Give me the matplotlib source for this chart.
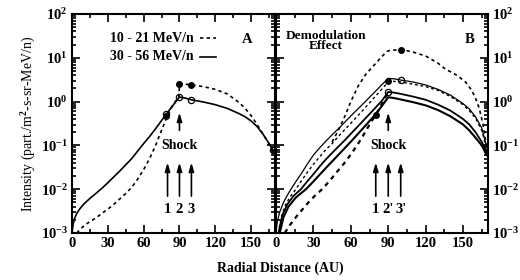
import numpy as np
import matplotlib.pyplot as plt
from matplotlib.ticker import FixedLocator, FixedFormatter, LogLocator, NullFormatter, MultipleLocator

plt.rcParams['font.family'] = ['Liberation Serif']
plt.rcParams['font.weight'] = 'bold'
plt.rcParams['mathtext.fontset'] = 'custom'
plt.rcParams['mathtext.rm'] = 'Liberation Serif:bold'
plt.rcParams['mathtext.it'] = 'Liberation Serif:bold'
plt.rcParams['mathtext.bf'] = 'Liberation Serif:bold'

# ---- panel A data ----
a_lo_x = [4, 8, 12, 16, 20, 25, 30, 35, 40, 45, 50, 55, 60, 65, 70, 75, 80, 84, 88, 89.5,
          90, 95, 100, 110, 120, 130, 140, 145, 150, 155, 160, 165, 169]
a_lo_y = [1e-3, 1.3e-3, 1.6e-3, 1.9e-3, 2.2e-3, 2.8e-3, 3.5e-3, 4.5e-3, 6e-3, 8e-3, 1.1e-2,
          1.7e-2, 2.8e-2, 5e-2, 0.1, 0.22, 0.48, 0.8, 1.15, 1.25,
          2.5, 2.5, 2.4, 2.2, 1.9, 1.5, 0.95, 0.7, 0.48, 0.3, 0.18, 0.11, 0.07]
a_hi_x = [0, 1, 2, 4, 6, 8, 10, 13, 16, 20, 25, 30, 40, 50, 60, 65, 70, 75, 79, 83, 87, 90,
          95, 100, 110, 120, 130, 140, 145, 150, 155, 160, 165, 169]
a_hi_y = [1e-3, 1.6e-3, 2.1e-3, 2.8e-3, 3.4e-3, 4e-3, 4.6e-3, 5.5e-3, 6.5e-3, 8e-3, 1.05e-2,
          1.4e-2, 2.6e-2, 5e-2, 0.11, 0.16, 0.24, 0.37, 0.52, 0.72, 1.0, 1.27,
          1.2, 1.1, 0.98, 0.85, 0.7, 0.53, 0.45, 0.36, 0.27, 0.18, 0.11, 0.07]
a_open_x = [79, 90, 100, 168]
a_open_y = [0.52, 1.27, 1.1, 0.08]
a_fill_x = [79, 90, 100]
a_fill_y = [0.47, 2.5, 2.4]

# ---- panel B data ----
b1_x = [0, 1, 3, 6, 9, 12, 16, 20, 25, 30, 35, 40, 45, 50, 60, 70, 80, 85, 90,
        95, 100, 110, 120, 130, 140, 150, 155, 160, 165, 169]
b1_y = [1e-3, 1.8e-3, 3e-3, 5e-3, 7.2e-3, 1e-2, 1.5e-2, 2.2e-2, 3.7e-2, 6e-2, 8.8e-2, 0.125,
        0.175, 0.24, 0.47, 0.9, 1.75, 2.45, 3.4,
        3.3, 3.1, 2.8, 2.4, 1.9, 1.4, 0.9, 0.68, 0.45, 0.25, 0.09]
b2_x = [2, 4, 7, 11, 16, 20, 25, 30, 35, 40, 45, 50, 60, 70, 80, 85, 90,
        95, 100, 110, 120, 130, 140, 150, 155, 160, 165, 169]
b2_y = [1e-3, 2.2e-3, 4e-3, 6.5e-3, 1e-2, 1.5e-2, 2.4e-2, 3.7e-2, 5.5e-2, 8e-2, 0.11, 0.16,
        0.32, 0.65, 1.35, 1.95, 2.8,
        2.9, 2.8, 2.5, 2.2, 1.8, 1.3, 0.85, 0.62, 0.42, 0.22, 0.08]
b3_x = [2, 5, 9, 14, 20, 25, 30, 35, 40, 46, 55, 65, 75, 85, 90,
        95, 100, 110, 120, 130, 140, 150, 155, 160, 165, 169]
b3_y = [1e-3, 2.5e-3, 4.5e-3, 7e-3, 1e-2, 1.5e-2, 2.2e-2, 3.3e-2, 4.8e-2, 7.2e-2, 0.13, 0.26,
        0.52, 1.05, 1.66,
        1.6, 1.5, 1.3, 1.1, 0.85, 0.62, 0.4, 0.3, 0.2, 0.12, 0.07]
b4_x = [3, 6, 10, 16, 24, 30, 36, 42, 48, 54, 62, 70, 80, 85, 90,
        95, 100, 110, 120, 130, 140, 150, 155, 160, 165, 169]
b4_y = [1e-3, 2.3e-3, 4e-3, 6.5e-3, 1e-2, 1.5e-2, 2.3e-2, 3.5e-2, 5.3e-2, 8e-2, 0.14, 0.25,
        0.52, 0.8, 1.26,
        1.2, 1.12, 0.97, 0.82, 0.64, 0.46, 0.3, 0.22, 0.15, 0.1, 0.06]
b5_x = [7, 11, 16, 21, 26, 31, 37, 43, 49, 55, 60, 65, 70, 75, 80, 85, 88, 90]
b5_y = [1e-3, 1.5e-3, 2.3e-3, 3.4e-3, 5e-3, 7e-3, 1e-2, 1.55e-2, 2.5e-2, 4e-2, 6.2e-2, 0.1,
        0.17, 0.3, 0.5, 0.9, 1.3, 1.66]
b6_x = [45, 50, 55, 60, 66, 72, 80, 86, 89, 92, 96, 100, 105, 110, 120, 130, 136, 145,
        152, 157, 160, 163, 166, 169]
b6_y = [0.12, 0.22, 0.45, 1.0, 2.3, 4.2, 7.5, 11.5, 14, 15, 15, 15, 14.5, 13.5, 11,
        7.5, 5.5, 4, 2.8, 1.8, 1.2, 0.7, 0.3, 0.09]
b_open_x = [90, 100, 169]
b_open_y = [1.66, 3.1, 0.08]
b_fill_x = [80, 90, 100]
b_fill_y = [0.5, 2.9, 15]

xmax = 170
arrow = dict(arrowstyle='-|>,head_width=0.15,head_length=0.5', color='black', lw=1.2)
dots = (0, (2, 2))


def style_axis(ax, side):
    ax.set_yscale('log')
    ax.set_ylim(1e-3, 1e2)
    ax.set_xlim(0, xmax)
    ax.xaxis.set_major_locator(FixedLocator([0, 30, 60, 90, 120, 150]))
    ax.xaxis.set_minor_locator(MultipleLocator(15))
    ax.yaxis.set_major_locator(FixedLocator([1e-3, 1e-2, 1e-1, 1, 10, 100]))
    ax.yaxis.set_major_formatter(FixedFormatter(
        [r'$10^{%d}$' % e for e in [-3, -2, -1, 0, 1, 2]]))
    ax.yaxis.set_minor_locator(LogLocator(base=10, subs=np.arange(2, 10), numticks=10))
    ax.yaxis.set_minor_formatter(NullFormatter())
    ax.tick_params(which='both', direction='in', top=True, bottom=True, left=True, right=True,
                   labelsize=10.5, width=1.2)
    ax.tick_params(which='major', length=6, pad=3)
    ax.tick_params(which='minor', length=3)
    if side == 'right':
        ax.tick_params(labelleft=False, labelright=True)
    for s in ax.spines.values():
        s.set_linewidth(1.5)


fig = plt.figure(figsize=(5.2, 2.8), dpi=100)
ax1 = fig.add_axes([72 / 520, 47 / 280, 203 / 520, 219 / 280])
ax2 = fig.add_axes([276 / 520, 47 / 280, 212 / 520, 219 / 280])

# panel A
ax1.plot(a_lo_x, a_lo_y, color='black', lw=1.2, linestyle=dots)
ax1.plot(a_hi_x, a_hi_y, color='black', lw=1.2)
ax1.plot(a_fill_x, a_fill_y, 'o', color='black', ms=4)
ax1.plot(a_open_x, a_open_y, 'o', mfc='none', mec='black', ms=4.5, mew=0.9)
style_axis(ax1, 'left')

ax1.text(102, 28, '10 - 21 MeV/n', fontsize=10, va='center', ha='right')
ax1.plot([107, 121], [28, 28], color='black', lw=1.2, linestyle=dots)
ax1.text(102, 10.5, '30 - 56 MeV/n', fontsize=10, va='center', ha='right')
ax1.plot([107, 121], [10.5, 10.5], color='black', lw=1.2)
ax1.text(147, 26, 'A', fontsize=10.5, va='center', ha='center')

ax1.annotate('', xy=(90, 0.65), xytext=(90, 0.19), arrowprops=arrow)
ax1.text(90, 0.1, 'Shock', fontsize=10, ha='center', va='center')
for xs, lab in zip([80, 90, 100], ['1', '2', '3']):
    ax1.annotate('', xy=(xs, 0.047), xytext=(xs, 6e-3), arrowprops=arrow)
    ax1.text(xs, 3.4e-3, lab, fontsize=10.5, ha='center', va='center')
ax1.set_ylabel(r'Intensity (part./m$^2$-s-sr-MeV/n)', fontsize=10, labelpad=2)

# panel B
ax2.plot(b1_x, b1_y, color='black', lw=0.9)
ax2.plot(b2_x, b2_y, color='black', lw=1.0, linestyle=dots)
ax2.plot(b3_x, b3_y, color='black', lw=1.3)
ax2.plot(b4_x, b4_y, color='black', lw=1.5)
ax2.plot(b5_x, b5_y, color='black', lw=1.6, linestyle=dots)
ax2.plot(b6_x, b6_y, color='black', lw=1.2, linestyle=dots)
ax2.plot(b_fill_x, b_fill_y, 'o', color='black', ms=4)
ax2.plot(b_open_x, b_open_y, 'o', mfc='none', mec='black', ms=4.5, mew=0.9)
style_axis(ax2, 'right')

ax2.text(40, 24, 'Demodulation\nEffect', fontsize=9.5, ha='center', va='center', linespacing=0.85)
ax2.text(155, 26, 'B', fontsize=10.5, va='center', ha='center')
ax2.annotate('', xy=(90, 0.65), xytext=(90, 0.19), arrowprops=arrow)
ax2.text(90, 0.1, 'Shock', fontsize=10, ha='center', va='center')
for xs, lab in zip([80, 90, 100], ['1', "2'", "3'"]):
    ax2.annotate('', xy=(xs, 0.047), xytext=(xs, 6e-3), arrowprops=arrow)
    ax2.text(xs, 3.4e-3, lab, fontsize=10.5, ha='center', va='center')

fig.text(280 / 520, 1 - 268 / 280, 'Radial Distance (AU)', fontsize=10, ha='center', va='center')

fig.savefig('out.png', dpi=100)
